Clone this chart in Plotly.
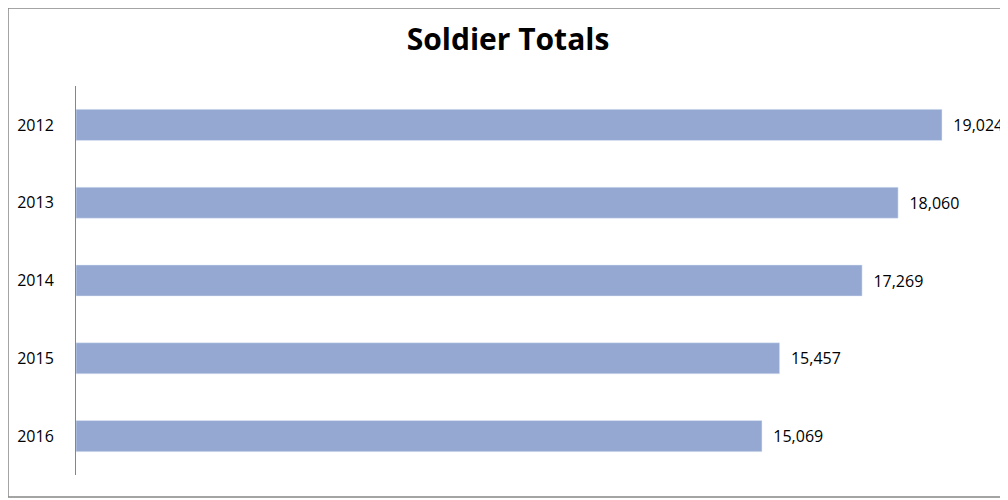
import plotly.graph_objects as go

years = ["2012", "2013", "2014", "2015", "2016"]
totals = [19024, 18060, 17269, 15457, 15069]
labels = ["19,024", "18,060", "17,269", "15,457", "15,069"]

fig = go.Figure(go.Bar(
    x=totals, y=years, orientation="h",
    marker_color="#94A8D2", width=0.4,
    text=["  " + s for s in labels], textposition="outside", cliponaxis=False,
    textfont=dict(size=16, color="#000000"),
))

fig.update_layout(
    width=1000, height=492,
    margin=dict(l=68, r=8, t=78, b=25),
    paper_bgcolor="white", plot_bgcolor="white",
    font=dict(family="Open Sans, Liberation Sans, sans-serif", color="#000000"),
    title=dict(text="<b>Soldier Totals</b>", x=0.5, xanchor="center",
               y=0.935, yanchor="middle", font=dict(size=30)),
    xaxis=dict(visible=False, range=[0, 20298]),
    yaxis=dict(autorange="reversed", showline=True, linecolor="#868686",
               ticks="", ticklabelstandoff=18, tickfont=dict(size=16),
               showgrid=False),
    showlegend=False,
    shapes=[dict(type="rect", xref="paper", yref="paper",
                 x0=-0.0736, x1=1.0065, y0=-0.0566, y1=1.2005,
                 line=dict(color="#868686", width=1.5))],
)

fig.write_html("out.html")
